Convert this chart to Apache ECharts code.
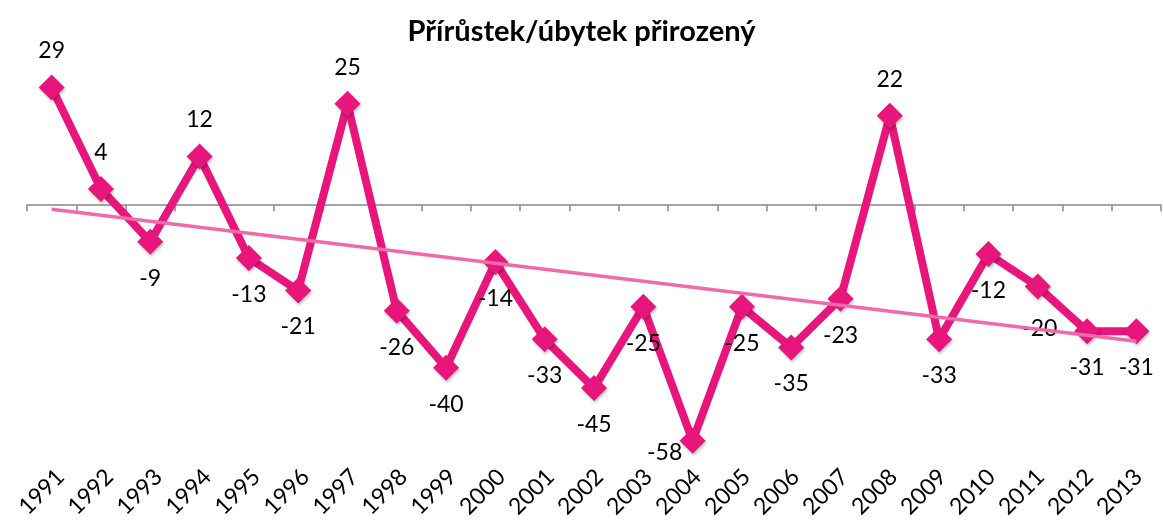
<!DOCTYPE html>
<html>
<head>
<meta charset="utf-8">
<script src="https://cdn.jsdelivr.net/npm/echarts@6/dist/echarts.min.js"></script>
<style>
  html, body { margin: 0; padding: 0; background: #fff; }
  #chart { width: 1163px; height: 521px; }
</style>
</head>
<body>
<div id="chart"></div>
<script>
// roky
var years = ['1991','1992','1993','1994','1995','1996','1997','1998','1999','2000','2001','2002',
             '2003','2004','2005','2006','2007','2008','2009','2010','2011','2012','2013'];
// přirozený přírůstek / úbytek
var values = [29, 4, -9, 12, -13, -21, 25, -26, -40, -14, -33, -45, -25, -58, -25, -35, -23, 22, -33, -12, -20, -31, -31];
// lineární trend (krajní body)
var trendYears = ['1991', '2013'];
var trendValues = [-1.0, -33.5];

var chartDom = document.getElementById('chart');
var myChart = echarts.init(chartDom);

var mainData = values.map(function (v, i) {
  var item = { value: v };
  if (v >= 0) {
    item.label = { position: 'top' };
  }
  if (years[i] === '2004') {
    item.label = { position: 'bottom', offset: [-28, -25] };
  }
  if (years[i] === '2011') {
    item.label = { position: 'bottom', offset: [2, 6] };
  }
  return item;
});

var trendData = trendYears.map(function (y, i) {
  return [y, trendValues[i]];
});

var option = {
  animation: false,
  textStyle: { fontFamily: 'Lato, "Open Sans", sans-serif' },
  title: {
    text: 'Přírůstek/úbytek přirozený',
    left: 'center',
    top: 12,
    textStyle: {
      fontFamily: 'Lato, "Open Sans", sans-serif',
      fontSize: 29,
      fontWeight: 'bold',
      color: '#000'
    }
  },
  grid: [
    { left: 27, right: 2, top: 63, bottom: 72 },
    // popisky os posunuté o kousek doprava
    { left: 36, right: -7, top: 63, bottom: 72 }
  ],
  xAxis: [
    {
      type: 'category',
      gridIndex: 0,
      data: years,
      boundaryGap: true,
      axisLine: { onZero: true, lineStyle: { color: '#868686', width: 1.5 } },
      axisTick: { show: true, length: 6, lineStyle: { color: '#868686', width: 1.5 } },
      axisLabel: { show: false },
      splitLine: { show: false }
    },
    {
      type: 'category',
      gridIndex: 1,
      data: years,
      position: 'bottom',
      boundaryGap: true,
      axisLine: { show: false, onZero: false },
      axisTick: { show: false },
      axisLabel: {
        rotate: 45,
        interval: 0,
        margin: 33,
        fontSize: 23,
        color: '#000',
        fontFamily: 'Lato, "Open Sans", sans-serif'
      }
    }
  ],
  yAxis: [
    {
      type: 'value',
      gridIndex: 0,
      min: -60,
      max: 35,
      show: false,
      splitLine: { show: false }
    },
    {
      type: 'value',
      gridIndex: 1,
      min: -60,
      max: 35,
      show: false,
      splitLine: { show: false }
    }
  ],
  series: [
    {
      name: 'Přírůstek/úbytek',
      type: 'line',
      xAxisIndex: 0,
      yAxisIndex: 0,
      data: mainData,
      symbol: 'diamond',
      symbolSize: [26, 26],
      showAllSymbol: true,
      lineStyle: { color: '#E8167C', width: 8 },
      itemStyle: {
        color: '#E8167C',
        shadowColor: 'rgba(0,0,0,0.25)',
        shadowBlur: 3,
        shadowOffsetX: 1,
        shadowOffsetY: 2
      },
      label: {
        show: true,
        position: 'bottom',
        distance: 12,
        fontSize: 23,
        color: '#000',
        fontFamily: 'Lato, "Open Sans", sans-serif'
      }
    },
    {
      name: 'Trend',
      type: 'line',
      xAxisIndex: 0,
      yAxisIndex: 0,
      zlevel: 1,
      data: trendData,
      symbol: 'none',
      lineStyle: { color: '#F06AAA', width: 3.5 },
      silent: true
    }
  ]
};

myChart.setOption(option);
window.addEventListener('resize', function () {
  myChart.resize();
});
</script>
</body>
</html>
